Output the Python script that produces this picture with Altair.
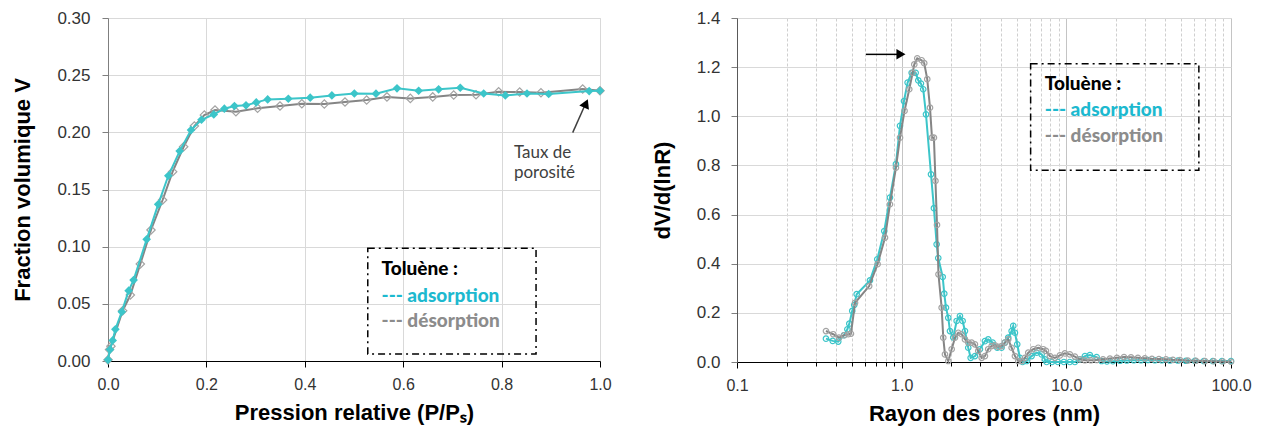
import altair as alt
import pandas as pd

# ---------------- Left chart: isotherm ----------------
ads_p = [0.000, 0.004, 0.0095, 0.015, 0.028, 0.042, 0.052, 0.0786, 0.102, 0.1226, 0.1457,
         0.1687, 0.190, 0.215, 0.2365, 0.257, 0.2805, 0.3014, 0.3245, 0.3665, 0.411, 0.455,
         0.5007, 0.5447, 0.5874, 0.6314, 0.672, 0.716, 0.7636, 0.8076, 0.8516, 0.8957, 0.978, 1.000]
ads_v = [0.001, 0.010, 0.018, 0.0277, 0.043, 0.0615, 0.0708, 0.1064, 0.137, 0.162, 0.1836,
         0.202, 0.211, 0.2157, 0.2207, 0.223, 0.2236, 0.2262, 0.2288, 0.2294, 0.2303, 0.2323,
         0.234, 0.2338, 0.2385, 0.2364, 0.2376, 0.239, 0.234, 0.2323, 0.234, 0.2335, 0.2361, 0.2364]

des_p = [0.000, 0.003, 0.006, 0.0298, 0.0454, 0.0657, 0.0874, 0.111, 0.1314, 0.1538, 0.1755,
         0.1958, 0.2175, 0.260, 0.304, 0.3496, 0.394, 0.4397, 0.4817, 0.5257, 0.567, 0.6145,
         0.660, 0.7026, 0.748, 0.794, 0.8367, 0.880, 0.9648, 1.000]
des_v = [0.001, 0.010, 0.013, 0.044, 0.0577, 0.0848, 0.1146, 0.1408, 0.1656, 0.1874, 0.2055,
         0.2151, 0.2195, 0.218, 0.221, 0.223, 0.225, 0.2247, 0.2265, 0.2282, 0.231, 0.2297,
         0.231, 0.2326, 0.2329, 0.2355, 0.2352, 0.2347, 0.2379, 0.2364]

# ---------------- Right chart: pore size distribution ----------------
ads_r = [0.347, 0.381, 0.412, 0.447, 0.468, 0.481, 0.501, 0.515, 0.533, 0.642, 0.711, 0.784,
         0.849, 0.923, 0.977, 1.033, 1.087, 1.150, 1.216, 1.262, 1.309, 1.352, 1.405, 1.507,
         1.570, 1.631, 1.668, 1.775, 1.814, 1.858, 1.919, 1.965, 2.057, 2.158, 2.259, 2.345,
         2.423, 2.537, 2.624, 2.786, 2.987, 3.203, 3.355, 3.569, 3.805, 4.043, 4.236, 4.437,
         4.654, 4.760, 4.873, 5.032, 5.227, 5.427, 5.742, 6.155, 6.600, 7.079, 7.413, 7.59,
         8.18, 8.89, 9.66, 10.5, 11.27, 12.1, 12.97, 13.9, 15.27, 16.37, 17.64, 19.18, 21.2,
         23.3, 25.7, 28.4, 31.3, 34.5, 38.0, 42.6, 47.6, 53.2, 60.4, 68.4, 77.6, 88.1, 100.0]
ads_d = [0.095, 0.086, 0.083, 0.109, 0.133, 0.156, 0.208, 0.232, 0.276, 0.332, 0.418, 0.533,
         0.669, 0.805, 0.961, 1.062, 1.137, 1.177, 1.177, 1.146, 1.133, 1.110, 1.008, 0.764,
         0.626, 0.479, 0.423, 0.346, 0.278, 0.221, 0.180, 0.126, 0.100, 0.167, 0.187, 0.167,
         0.126, 0.058, 0.017, 0.024, 0.052, 0.085, 0.092, 0.079, 0.058, 0.058, 0.079, 0.099,
         0.126, 0.147, 0.119, 0.072, 0.017, 0.000, 0.004, 0.024, 0.038, 0.031, 0.011, 0.000,
         0.000, 0.000, 0.000, 0.000, 0.000, 0.011, 0.024, 0.028, 0.020, 0.004, 0.002, 0.003, 0.005,
         0.006, 0.007, 0.007, 0.008, 0.007, 0.007, 0.006, 0.006, 0.005, 0.005, 0.004, 0.004, 0.004, 0.004]

des_r = [0.347, 0.384, 0.416, 0.448, 0.474, 0.492, 0.521, 0.635, 0.714, 0.792, 0.849, 0.923,
         0.977, 1.041, 1.112, 1.166, 1.193, 1.244, 1.323, 1.371, 1.430, 1.486, 1.528, 1.570,
         1.604, 1.639, 1.673, 1.749, 1.789, 1.832, 1.919, 2.012, 2.107, 2.207, 2.313, 2.423,
         2.537, 2.661, 2.786, 2.918, 3.061, 3.203, 3.355, 3.520, 3.686, 3.860, 4.043, 4.236,
         4.437, 4.654, 4.873, 5.103, 5.354, 5.607, 5.873, 6.295, 6.747, 7.24, 7.52, 7.95, 8.52,
         9.14, 9.80, 10.5, 11.27, 12.1, 12.97, 14.1, 15.3, 16.7, 18.4, 20.3, 22.4, 24.7, 27.2,
         30.0, 33.1, 36.5, 40.3, 44.4, 49.0, 54.7, 61.2, 69.5, 78.7, 89.3, 100.0]
des_d = [0.126, 0.113, 0.099, 0.109, 0.113, 0.115, 0.241, 0.309, 0.398, 0.506, 0.642, 0.791,
         0.913, 1.022, 1.110, 1.177, 1.211, 1.236, 1.228, 1.216, 1.151, 1.035, 0.913, 0.913,
         0.737, 0.558, 0.357, 0.221, 0.099, 0.031, 0.004, 0.052, 0.099, 0.119, 0.113, 0.092,
         0.079, 0.079, 0.072, 0.045, 0.017, 0.024, 0.052, 0.065, 0.068, 0.062, 0.065, 0.079,
         0.092, 0.058, 0.024, 0.004, 0.004, 0.017, 0.038, 0.052, 0.058, 0.052, 0.045, 0.024,
         0.017, 0.027, 0.035, 0.031, 0.022, 0.011, 0.007, 0.007, 0.008, 0.011, 0.014, 0.017,
         0.020, 0.019, 0.017, 0.015, 0.013, 0.012, 0.011, 0.009, 0.008, 0.006, 0.005, 0.004,
         0.003, 0.002, 0.001]

# ---------------- Axis ticks / labels ----------------
left_x_ticks = [0.0, 0.2, 0.4, 0.6, 0.8, 1.0]
left_y_ticks = [0.00, 0.05, 0.10, 0.15, 0.20, 0.25, 0.30]
right_y_ticks = [0.0, 0.2, 0.4, 0.6, 0.8, 1.0, 1.2, 1.4]
right_major = [0.1, 1.0, 10.0, 100.0]
right_minor = [0.2, 0.3, 0.4, 0.5, 0.6, 0.7, 0.8, 0.9,
               2, 3, 4, 5, 6, 7, 8, 9, 20, 30, 40, 50, 60, 70, 80, 90]

# ---------------- Text / annotations ----------------
legend_texts = ["Toluène :", "--- adsorption", "--- désorption"]
note_text = ["Taux de\nporosité"]

# annotation anchors in data units
left_box = dict(p=[0.528], p2=[0.870], v=[0.0986], v2=[0.0061])
left_leg = dict(p=[0.556] * 3, v=[0.0752, 0.0519, 0.0295])
left_note = dict(p=[0.825], v=[0.1778])
left_arrow = dict(p=[0.9445], v=[0.1997], p2=[0.9695], v2=[0.2239])
left_head = dict(p=[0.9715], v=[0.2252])

right_box = dict(r=[6.07], r2=[63.8], d=[1.214], d2=[0.780])
right_leg = dict(r=[7.40] * 3, d=[1.106, 1.001, 0.897])
right_arrow = dict(r=[0.607], d=[1.252], r2=[0.9365], d2=[1.252])
right_head = dict(r=[0.990], d=[1.252])

CYAN = "#3cc5c9"
CYAN_TXT = "#1db9cf"
GRAY_LINE = "#858585"
GRAY_PT = "#a3a3a3"
GRAY_TXT = "#8c8c8c"
TXT = "#333333"
GRID = "#d9d9d9"
legend_colors = ["#000000", CYAN_TXT, GRAY_TXT]

TICK_FONT = "Liberation Sans"
LEG_FONT = "Lato"

# ---------------- Left chart ----------------
xL = alt.X("p:Q", scale=alt.Scale(domain=[0, 1], nice=False),
           axis=alt.Axis(values=left_x_ticks, format=".1f", title="Pression relative (P/Pₛ)",
                         labelFont=TICK_FONT, labelFontSize=16, labelColor=TXT, labelPadding=9,
                         tickSize=6, tickColor="#000000", domainColor="#000000", domainWidth=1,
                         gridColor=GRID, titleFont=TICK_FONT, titleFontSize=22,
                         titleFontWeight="bold", titleColor="#000000", titlePadding=10,
                         labelFlush=False))
yL = alt.Y("v:Q", scale=alt.Scale(domain=[0, 0.30], nice=False),
           axis=alt.Axis(values=left_y_ticks, format=".2f", title="Fraction volumique V",
                         labelFont=TICK_FONT, labelFontSize=17, labelColor=TXT, labelPadding=12,
                         tickSize=6, tickColor="#7f7f7f", domainColor="#7f7f7f",
                         gridColor=GRID, titleFont=TICK_FONT, titleFontSize=22,
                         titleFontWeight="bold", titleColor="#000000", titlePadding=22))

dfLa = pd.DataFrame({"p": ads_p, "v": ads_v})
dfLd = pd.DataFrame({"p": des_p, "v": des_v})

l_des_line = alt.Chart(dfLd).mark_line(color=GRAY_LINE, strokeWidth=2).encode(x=xL, y=yL)
l_des_pts = alt.Chart(dfLd).mark_point(shape="diamond", filled=False, color=GRAY_PT,
                                       size=70, strokeWidth=1.2, opacity=1).encode(x=xL, y=yL)
l_ads_line = alt.Chart(dfLa).mark_line(color=CYAN, strokeWidth=2).encode(x=xL, y=yL)
l_ads_pts = alt.Chart(dfLa).mark_point(shape="diamond", filled=True, color=CYAN,
                                       size=75, opacity=1).encode(x=xL, y=yL)

l_box = alt.Chart(pd.DataFrame(left_box)).mark_rect(
    filled=False, stroke="#000000", strokeWidth=1.5, strokeDash=[7, 4, 2, 4]
).encode(x=xL, x2="p2:Q", y=yL, y2="v2:Q")

l_leg = alt.Chart(pd.DataFrame({**left_leg, "t": legend_texts, "c": legend_colors})).mark_text(
    align="left", baseline="alphabetic", font=LEG_FONT, fontWeight=900, fontSize=19
).encode(x=xL, y=yL, text="t:N", color=alt.Color("c:N", scale=None))

l_note = alt.Chart(pd.DataFrame({**left_note, "t": note_text})).mark_text(
    align="left", baseline="alphabetic", font=LEG_FONT, fontSize=17, color="#404040",
    lineBreak="\n", lineHeight=20
).encode(x=xL, y=yL, text="t:N")

l_arrow = alt.Chart(pd.DataFrame(left_arrow)).mark_rule(color="#404040", strokeWidth=1.5).encode(
    x=xL, y=yL, x2="p2:Q", y2="v2:Q")
l_head = alt.Chart(pd.DataFrame(left_head)).mark_point(
    shape="triangle-up", filled=True, color="#000000", size=110, angle=24, opacity=1
).encode(x=xL, y=yL)

left = alt.layer(l_des_line, l_des_pts, l_ads_line, l_ads_pts, l_box, l_leg, l_note,
                 l_arrow, l_head).properties(width=492, height=343)

# ---------------- Right chart ----------------
major_test = "indexof([0.1, 1, 10, 100], datum.value) >= 0"
xR = alt.X("r:Q", scale=alt.Scale(type="log", domain=[0.1, 100], nice=False),
           axis=alt.Axis(values=sorted(right_major + right_minor),
                         labelExpr=f"{major_test} ? format(datum.value, '.1f') : ''",
                         title="Rayon des pores (nm)",
                         labelFont=TICK_FONT, labelFontSize=16, labelColor=TXT, labelPadding=9,
                         tickSize={"condition": {"test": major_test, "value": 6}, "value": 4},
                         tickColor="#000000", domainColor="#000000",
                         gridColor={"condition": {"test": major_test, "value": "#c4c4c4"},
                                    "value": "#cfcfcf"},
                         gridDash={"condition": {"test": major_test, "value": []},
                                   "value": [3, 2]},
                         titleFont=TICK_FONT, titleFontSize=22, titleFontWeight="bold",
                         titleColor="#000000", titlePadding=10, labelFlush=False,
                         labelOverlap=False))
yR = alt.Y("d:Q", scale=alt.Scale(domain=[0, 1.4], nice=False),
           axis=alt.Axis(values=right_y_ticks, format=".1f", title="dV/d(lnR)",
                         labelFont=TICK_FONT, labelFontSize=17, labelColor=TXT, labelPadding=11,
                         tickSize=6, tickColor="#7f7f7f", domainColor="#595959",
                         gridColor=GRID, titleFont=TICK_FONT, titleFontSize=22,
                         titleFontWeight="bold", titleColor="#000000", titlePadding=22))

dfRa = pd.DataFrame({"r": ads_r, "d": ads_d})
dfRd = pd.DataFrame({"r": des_r, "d": des_d})

r_ads_line = alt.Chart(dfRa).mark_line(color=CYAN, strokeWidth=2).encode(x=xR, y=yR)
r_ads_pts = alt.Chart(dfRa).mark_point(shape="circle", filled=False, color=CYAN,
                                       size=30, strokeWidth=1.2, opacity=1).encode(x=xR, y=yR)
r_des_line = alt.Chart(dfRd).mark_line(color=GRAY_LINE, strokeWidth=2).encode(x=xR, y=yR)
r_des_pts = alt.Chart(dfRd).mark_point(shape="circle", filled=False, color=GRAY_PT,
                                       size=30, strokeWidth=1.2, opacity=1).encode(x=xR, y=yR)

r_box = alt.Chart(pd.DataFrame(right_box)).mark_rect(
    filled=False, stroke="#000000", strokeWidth=1.5, strokeDash=[7, 4, 2, 4]
).encode(x=xR, x2="r2:Q", y=yR, y2="d2:Q")

r_leg = alt.Chart(pd.DataFrame({**right_leg, "t": legend_texts, "c": legend_colors})).mark_text(
    align="left", baseline="alphabetic", font=LEG_FONT, fontWeight=900, fontSize=19
).encode(x=xR, y=yR, text="t:N", color=alt.Color("c:N", scale=None))

r_arrow = alt.Chart(pd.DataFrame(right_arrow)).mark_rule(color="#000000", strokeWidth=1.5).encode(
    x=xR, y=yR, x2="r2:Q", y2="d2:Q")
r_head = alt.Chart(pd.DataFrame(right_head)).mark_point(
    shape="triangle-right", filled=True, color="#000000", size=110, opacity=1
).encode(x=xR, y=yR)

right = alt.layer(r_ads_line, r_ads_pts, r_des_line, r_des_pts, r_box, r_leg,
                  r_arrow, r_head).properties(width=494, height=344)

chart = alt.hconcat(left, right, spacing=38).properties(
    padding={"left": 3, "top": 0, "right": 5, "bottom": 5}
).configure_view(stroke=None).configure(background="white")

chart.save("out.html", embed_options={"renderer": "svg", "actions": False})
